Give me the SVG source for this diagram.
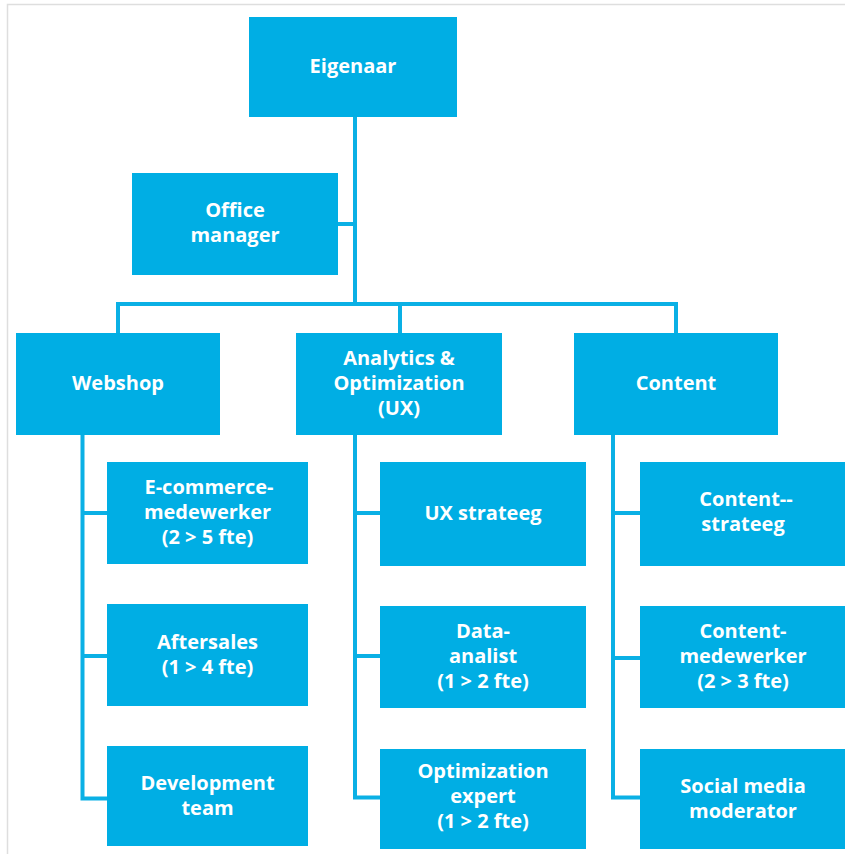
<svg xmlns="http://www.w3.org/2000/svg" width="845" height="854" viewBox="0 0 845 854">
<style>
.box{fill:#00AEE4}
.t{font-family:"Open Sans","Noto Sans","Liberation Sans",sans-serif;font-weight:700;font-size:20px;fill:#ffffff;text-anchor:middle}
.c{fill:none;stroke:#0AB0E5;stroke-width:4;stroke-linejoin:miter;stroke-linecap:butt}
.frame{fill:none;stroke:#DEDEDE;stroke-width:1.5}
</style>
<rect width="845" height="854" fill="#ffffff"/>
<path class="frame" d="M7.5,854 V4.5 H845"/>
<g id="connectors">
<path class="c" d="M355,117 V304"/>
<path class="c" d="M338,224 H355"/>
<path class="c" d="M118,333 V304 H676 V333"/>
<path class="c" d="M400,304 V333"/>
<path class="c" d="M82.5,435 V798.5 H107"/>
<path class="c" d="M82.5,513 H107 M82.5,656 H107"/>
<path class="c" d="M355,435 V797.5 H380"/>
<path class="c" d="M355,513 H380 M355,656 H380"/>
<path class="c" d="M613,435 V797.5 H640"/>
<path class="c" d="M613,513 H640 M613,658 H640"/>
</g>
<g id="eigenaar"><rect class="box" x="249" y="17" width="208" height="100"/><text class="t" x="353" y="73">Eigenaar</text></g>
<g id="office-manager"><rect class="box" x="132" y="173" width="206" height="102"/><text class="t" x="235" y="217">Office<tspan x="235" dy="25">manager</tspan></text></g>
<g id="webshop"><rect class="box" x="16" y="333" width="204" height="102"/><text class="t" x="118" y="390">Webshop</text></g>
<g id="analytics"><rect class="box" x="296" y="333" width="206" height="102"/><text class="t" x="399" y="365">Analytics &amp;<tspan x="399" dy="25">Optimization</tspan><tspan x="399" dy="25">(UX)</tspan></text></g>
<g id="content"><rect class="box" x="574" y="333" width="204" height="102"/><text class="t" x="676" y="390">Content</text></g>
<g id="ecommerce"><rect class="box" x="107" y="462" width="201" height="102"/><text class="t" x="209" y="494">E-commerce-<tspan x="207.5" dy="25">medewerker</tspan><tspan x="207.5" dy="25">(2 &gt; 5 fte)</tspan></text></g>
<g id="aftersales"><rect class="box" x="107" y="604" width="201" height="102"/><text class="t" x="207.5" y="649">Aftersales<tspan x="207.5" dy="25">(1 &gt; 4 fte)</tspan></text></g>
<g id="development"><rect class="box" x="107" y="746" width="201" height="100"/><text class="t" x="207.5" y="790">Development<tspan x="207.5" dy="25">team</tspan></text></g>
<g id="ux-strateeg"><rect class="box" x="380" y="462" width="206" height="104"/><text class="t" x="483" y="520">UX strateeg</text></g>
<g id="data-analist"><rect class="box" x="380" y="606" width="206" height="102"/><text class="t" x="483" y="638">Data-<tspan x="483" dy="25">analist</tspan><tspan x="483" dy="25">(1 &gt; 2 fte)</tspan></text></g>
<g id="optimization-expert"><rect class="box" x="380" y="749" width="206" height="100"/><text class="t" x="483" y="778">Optimization<tspan x="483" dy="25">expert</tspan><tspan x="483" dy="25">(1 &gt; 2 fte)</tspan></text></g>
<g id="content-strateeg"><rect class="box" x="640" y="462" width="205" height="104"/><text class="t" x="746" y="506">Content--<tspan x="743" dy="25">strateeg</tspan></text></g>
<g id="content-medewerker"><rect class="box" x="640" y="606" width="205" height="102"/><text class="t" x="743" y="638">Content-<tspan x="743" dy="25">medewerker</tspan><tspan x="743" dy="25">(2 &gt; 3 fte)</tspan></text></g>
<g id="social-media"><rect class="box" x="640" y="749" width="205" height="100"/><text class="t" x="743" y="793">Social media<tspan x="743" dy="25">moderator</tspan></text></g>
</svg>
